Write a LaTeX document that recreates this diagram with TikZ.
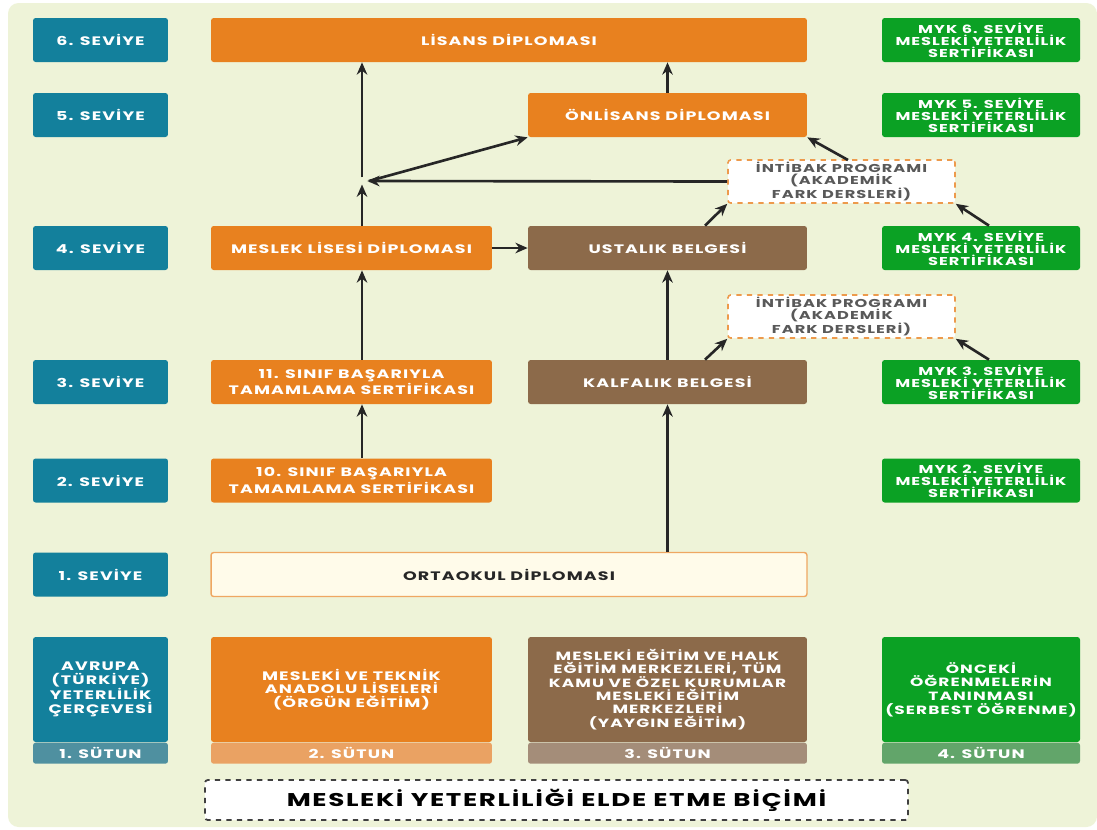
\documentclass[tikz,border=0pt]{standalone}
\usepackage{fontspec}
\setmainfont{Poppins}[LetterSpace=9,FakeStretch=1.42]
\usepackage{tikz}
\usetikzlibrary{arrows.meta,positioning,calc}
\definecolor{bgcol}{HTML}{EEF3D8}
\definecolor{tealc}{HTML}{13809C}
\definecolor{tealst}{HTML}{4F90A0}
\definecolor{orangec}{HTML}{E8811F}
\definecolor{orangest}{HTML}{EAA263}
\definecolor{brownc}{HTML}{8C6A4A}
\definecolor{brownst}{HTML}{A48D79}
\definecolor{greenc}{HTML}{0BA124}
\definecolor{greenst}{HTML}{62A56A}
\definecolor{creamc}{HTML}{FFFBEA}
\tikzset{
    box/.style={rounded corners=1.5pt, align=center, inner sep=1pt, text=white,
        font=\bfseries\fontsize{7}{7.8}\selectfont, minimum height=0.88cm},
    lvl/.style={box, fill=tealc, minimum width=2.7cm},
    obox/.style={box, fill=orangec, minimum width=5.62cm},
    bbox/.style={box, fill=brownc, minimum width=5.58cm},
    gbox/.style={box, fill=greenc, minimum width=3.96cm, font=\bfseries\fontsize{6.5}{6.9}\selectfont},
    intibak/.style={box, fill=white, draw=orangec!80, dashed, line width=0.9pt, text=black!65,
        minimum width=4.54cm, minimum height=0.86cm, font=\bfseries\fontsize{6.5}{6.9}\selectfont},
    strip/.style={box, minimum height=0.42cm, anchor=north},
    arr/.style={line width=1.5pt, black!85, -{Stealth[length=7pt,width=6pt]}}
}
\begin{document}
\begin{tikzpicture}[x=0.02cm,y=-0.02cm]
\useasboundingbox (0,0) rectangle (1097,829);
\fill[bgcol, rounded corners=6pt] (8,3) rectangle (1097,827);

\node[lvl] (l6) at (100.5,40) {6. SEVİYE};
\node[lvl] (l5) at (100.5,115) {5. SEVİYE};
\node[lvl] (l4) at (100.5,248) {4. SEVİYE};
\node[lvl] (l3) at (100.5,382) {3. SEVİYE};
\node[lvl] (l2) at (100.5,480.5) {2. SEVİYE};
\node[lvl] (l1) at (100.5,574.5) {1. SEVİYE};

\node[obox, minimum width=11.92cm] (lis) at (509,40) {LİSANS DİPLOMASI};
\node[obox, minimum width=5.58cm] (onl) at (667.5,115) {ÖNLİSANS DİPLOMASI};
\node[obox] (ml) at (351.5,248) {MESLEK LİSESİ DİPLOMASI};
\node[obox] (s11) at (351.5,382) {11. SINIF BAŞARIYLA\\TAMAMLAMA SERTİFİKASI};
\node[obox] (s10) at (351.5,480.5) {10. SINIF BAŞARIYLA\\TAMAMLAMA SERTİFİKASI};
\node[box, fill=creamc, draw=orangec!70, line width=0.8pt, text=black!85, minimum width=11.92cm] (ort) at (509,574.5) {ORTAOKUL DİPLOMASI};

\node[bbox] (ust) at (667.5,248) {USTALIK BELGESİ};
\node[bbox] (kal) at (667.5,382) {KALFALIK BELGESİ};

\node[intibak] (int1) at (841.5,181.5) {İNTİBAK PROGRAMI\\(AKADEMİK\\FARK DERSLERİ)};
\node[intibak] (int2) at (841.5,316.5) {İNTİBAK PROGRAMI\\(AKADEMİK\\FARK DERSLERİ)};

\node[gbox] (m6) at (981,40) {MYK 6. SEVİYE\\MESLEKİ YETERLİLİK\\SERTİFİKASI};
\node[gbox] (m5) at (981,115) {MYK 5. SEVİYE\\MESLEKİ YETERLİLİK\\SERTİFİKASI};
\node[gbox] (m4) at (981,248) {MYK 4. SEVİYE\\MESLEKİ YETERLİLİK\\SERTİFİKASI};
\node[gbox] (m3) at (981,382) {MYK 3. SEVİYE\\MESLEKİ YETERLİLİK\\SERTİFİKASI};
\node[gbox] (m2) at (981,480.5) {MYK 2. SEVİYE\\MESLEKİ YETERLİLİK\\SERTİFİKASI};

\node[lvl, minimum height=2.1cm] (c1) at (100.5,689.5) {AVRUPA\\(TÜRKİYE)\\YETERLİLİK\\ÇERÇEVESİ};
\node[strip, fill=tealst, minimum width=2.7cm] (st1) at (c1.south) {1. SÜTUN};
\node[obox, minimum height=2.1cm] (c2) at (351.5,689.5) {MESLEKİ VE TEKNİK\\ANADOLU LİSELERİ\\(ÖRGÜN EĞİTİM)};
\node[strip, fill=orangest, minimum width=5.62cm] (st2) at (c2.south) {2. SÜTUN};
\node[bbox, minimum height=2.1cm, font=\bfseries\fontsize{6.8}{7.6}\selectfont] (c3) at (667.5,689.5) {MESLEKİ EĞİTİM VE HALK\\EĞİTİM MERKEZLERİ, TÜM\\KAMU VE ÖZEL KURUMLAR\\MESLEKİ EĞİTİM\\MERKEZLERİ\\(YAYGIN EĞİTİM)};
\node[strip, fill=brownst, minimum width=5.58cm] (st3) at (c3.south) {3. SÜTUN};
\node[gbox, minimum height=2.1cm, font=\bfseries\fontsize{6.8}{7.8}\selectfont] (c4) at (981,689.5) {ÖNCEKİ\\ÖĞRENMELERİN\\TANINMASI\\(SERBEST ÖĞRENME)};
\node[strip, fill=greenst, minimum width=3.96cm] (st4) at (c4.south) {4. SÜTUN};

\node[box, fill=white, draw=black!75, dashed, line width=1pt, text=black, minimum width=14.06cm,
    minimum height=0.8cm, font=\bfseries\fontsize{10.5}{12}\selectfont] (title) at (556.5,800) {MESLEKİ YETERLİLİĞİ ELDE ETME BİÇİMİ};

\coordinate (jn) at (362,181);
\draw[arr] (ml.north -| jn) -- ([yshift=-2pt]jn);
\draw[arr] ([yshift=2pt]jn) -- (lis.south -| jn);
\draw[arr] ([xshift=4pt]jn) -- (onl.south west);
\draw[arr] (int1.west) -- ([xshift=3pt]jn);
\draw[arr] (onl.north) -- (lis.south -| onl.north);
\draw[arr] (848,160) -- (onl.south east);
\draw[arr] (ust.north -| 705,0) -- (int1.south west);
\draw[arr] (m4.north -| 989,0) -- (int1.south east);
\draw[arr] (ml.east) -- (ust.west);
\draw[arr] (s11.north -| jn) -- (ml.south -| jn);
\draw[arr] (s10.north -| jn) -- (s11.south -| jn);
\draw[arr] (ort.north -| kal.south) -- (kal.south);
\draw[arr] (kal.north) -- (ust.south);
\draw[arr] (kal.north -| 705,0) -- (int2.south west);
\draw[arr] (m3.north -| 989,0) -- (int2.south east);
\end{tikzpicture}
\end{document}
